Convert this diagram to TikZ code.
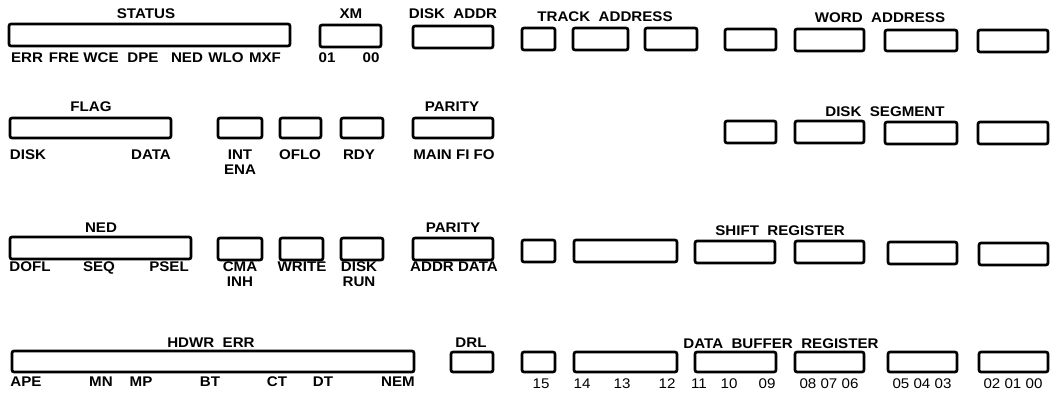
\documentclass[tikz,border=0pt]{standalone}
\usepackage{fontspec}
\newfontfamily\lab{Liberation Sans}[FakeStretch=1.08]
\usetikzlibrary{fit}
\tikzset{
  reg/.style={draw, line width=2pt, rounded corners=1.5pt, inner sep=0pt},
  lbl/.style={font=\lab\bfseries\fontsize{10.5}{12}\selectfont, inner sep=0pt, anchor=base},
  dig/.style={font=\lab\fontsize{10.5}{12}\selectfont, inner sep=0pt, anchor=base},
}
\newcommand\rb[5]{\node[reg, fit={(#2,#3) (#4,#5)}] (#1) {};}
\begin{document}
\begin{tikzpicture}[x=0.75pt, y=-0.75pt]
\fill[white] (0,0) rectangle (1053,406);
\useasboundingbox (0,0) rectangle (1053,406);
% ---------- row 1 ----------
\rb{status}{9}{24}{290}{46}
\node[lbl] (statusL) at (146,19) {STATUS};
\node[lbl] (err) at (27,63) {ERR};
\node[lbl] (fre) at (64,63) {FRE};
\node[lbl] (wce) at (101,63) {WCE};
\node[lbl] (dpe) at (143,63) {DPE};
\node[lbl] (nedb) at (187,63) {NED};
\node[lbl] (wlo) at (226,63) {WLO};
\node[lbl] (mxf) at (265,63) {MXF};
\rb{xm}{320}{25}{381}{47}
\node[lbl] (xmL) at (351,19) {XM};
\node[lbl] (xm01) at (327,63) {01};
\node[lbl] (xm00) at (371,63) {00};
\rb{diskaddr}{413}{26}{493}{48}
\node[lbl] (diskaddrL) at (453,19) {DISK~~ADDR};
\rb{ta1}{522}{28}{555}{50}
\rb{ta2}{573}{28}{628}{50}
\rb{ta3}{645}{28}{697}{50}
\node[lbl] (taL) at (605,22) {TRACK~~ADDRESS};
\rb{wa1}{725}{29}{776}{50}
\rb{wa2}{795}{29}{864}{51}
\rb{wa3}{885}{30}{957}{51}
\rb{wa4}{978}{30}{1048}{52}
\node[lbl] (waL) at (880,23) {WORD~~ADDRESS};
% ---------- row 2 ----------
\rb{flag}{10}{118}{171}{138}
\node[lbl] (flagL) at (91,112) {FLAG};
\node[lbl] (flagDisk) at (28,160) {DISK};
\node[lbl] (flagData) at (151,160) {DATA};
\rb{intena}{218}{118}{262}{138}
\node[lbl] (intL) at (240,160) {INT};
\node[lbl] (enaL) at (240,175) {ENA};
\rb{oflo}{280}{118}{321}{138}
\node[lbl] (ofloL) at (300,160) {OFLO};
\rb{rdy}{341}{118}{383}{138}
\node[lbl] (rdyL) at (359,160) {RDY};
\rb{parA}{413}{118}{493}{138}
\node[lbl] (parAL) at (452,112) {PARITY};
\node[lbl] (parAB) at (454,160) {MAIN FI FO};
\rb{ds1}{725}{121}{776}{143}
\rb{ds2}{795}{121}{864}{143}
\rb{ds3}{885}{122}{957}{144}
\rb{ds4}{978}{122}{1048}{144}
\node[lbl] (dsL) at (885,117) {DISK~~SEGMENT};
% ---------- row 3 ----------
\rb{ned}{10}{237}{191}{259}
\node[lbl] (nedL) at (101,233) {NED};
\node[lbl] (dofl) at (30,271) {DOFL};
\node[lbl] (seq) at (99,271) {SEQ};
\node[lbl] (psel) at (169,271) {PSEL};
\rb{cma}{218}{238}{262}{260}
\node[lbl] (cmaL) at (240,271) {CMA};
\node[lbl] (inhL) at (240,286) {INH};
\rb{write}{280}{238}{323}{260}
\node[lbl] (writeL) at (302,271) {WRITE};
\rb{run}{341}{238}{383}{260}
\node[lbl] (runL1) at (359,271) {DISK};
\node[lbl] (runL2) at (359,286) {RUN};
\rb{parB}{413}{238}{493}{260}
\node[lbl] (parBL) at (453,233) {PARITY};
\node[lbl] (parBB) at (454,271) {ADDR DATA};
\rb{sr1}{522}{240}{555}{262}
\rb{sr2}{574}{240}{677}{262}
\rb{sr3}{695}{241}{775}{263}
\rb{sr4}{795}{241}{864}{263}
\rb{sr5}{888}{242}{957}{264}
\rb{sr6}{979}{243}{1048}{265}
\node[lbl] (srL) at (780,235) {SHIFT~~REGISTER};
% ---------- row 4 ----------
\rb{hdwr}{12}{351}{414}{372}
\node[lbl] (hdwrL) at (211,347) {HDWR~~ERR};
\node[lbl] (ape) at (26,386) {APE};
\node[lbl] (mn) at (101,386) {MN};
\node[lbl] (mp) at (141,386) {MP};
\node[lbl] (bt) at (210,386) {BT};
\node[lbl] (ct) at (277,386) {CT};
\node[lbl] (dt) at (323,386) {DT};
\node[lbl] (nem) at (398,386) {NEM};
\rb{drl}{451}{352}{493}{372}
\node[lbl] (drlL) at (471,347) {DRL};
\rb{db1}{522}{352}{555}{372}
\rb{db2}{574}{352}{677}{372}
\rb{db3}{695}{352}{776}{372}
\rb{db4}{795}{352}{864}{372}
\rb{db5}{888}{352}{957}{372}
\rb{db6}{979}{352}{1048}{372}
\node[lbl] (dbL) at (781,348) {DATA~~BUFFER~~REGISTER};
\node[dig] (b15) at (541,388) {15};
\node[dig] (b14) at (582,388) {14};
\node[dig] (b13) at (622,388) {13};
\node[dig] (b12) at (667,388) {12};
\node[dig] (b11) at (699,388) {11};
\node[dig] (b10) at (729,388) {10};
\node[dig] (b09) at (767,388) {09};
\node[dig] (b080706) at (829,388) {08 07 06};
\node[dig] (b050403) at (922,388) {05 04 03};
\node[dig] (b020100) at (1013,388) {02 01 00};
\end{tikzpicture}
\end{document}
